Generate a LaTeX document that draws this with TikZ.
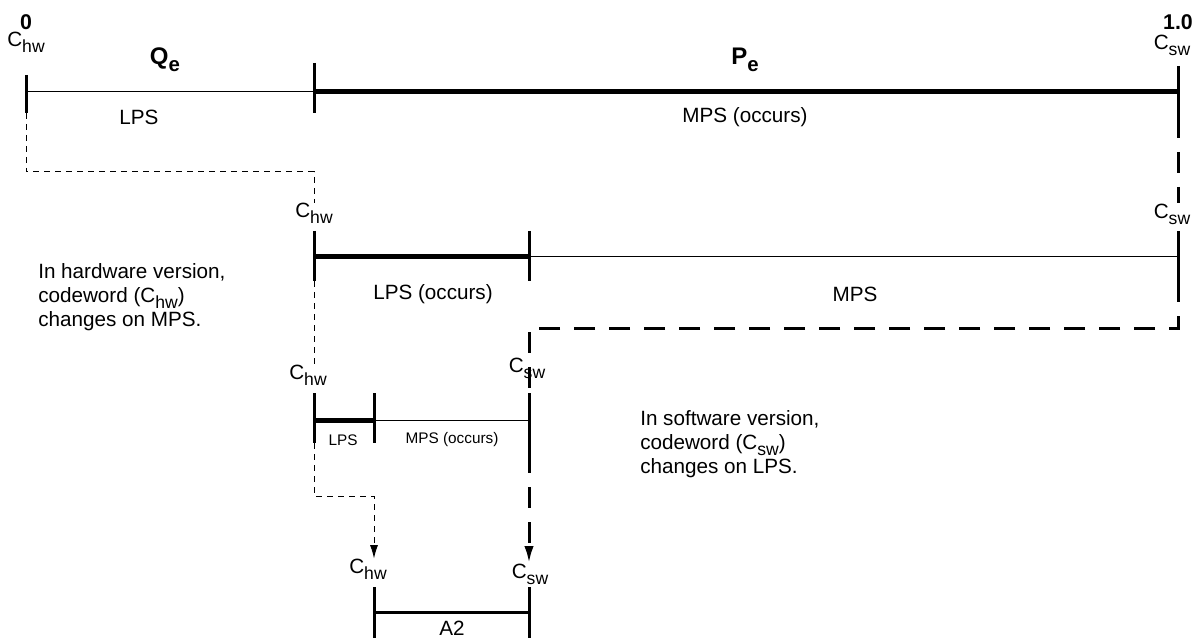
\documentclass[tikz,border=0pt]{standalone}
\usepackage{fontspec}
\setmainfont{Liberation Sans}
\usetikzlibrary{arrows.meta}

\newcommand{\lowsub}[1]{\raisebox{-0.55ex}{\scalebox{0.85}{#1}}}
\newcommand{\chw}{C\lowsub{hw}}
\newcommand{\csw}{C\lowsub{sw}}

\begin{document}
\begin{tikzpicture}[
    x=0.75pt, y=-0.75pt,
    lbl/.style={inner sep=0pt, font=\fontsize{15.5}{18}\selectfont},
    lblsmall/.style={inner sep=0pt, font=\fontsize{11.5}{14}\selectfont},
    lblbig/.style={inner sep=0pt, font=\fontsize{16}{19}\selectfont\bfseries},
    lblhead/.style={inner sep=0pt, font=\fontsize{18}{21}\selectfont\bfseries},
    thinbar/.style={line width=0.75pt},
    thickbar/.style={line width=3.75pt},
    tick/.style={line width=2.25pt},
    hwpath/.style={line width=0.75pt, dash pattern=on 4.5pt off 3.75pt},
    swpath/.style={line width=2.25pt, dash pattern=on 15.75pt off 10.5pt}
  ]
  \useasboundingbox (0,0) rectangle (1200,638);

  % first interval
  \coordinate (l1a) at (26,92);
  \coordinate (l1b) at (314,92);
  \coordinate (l1c) at (1178,92);
  \draw[thinbar] (l1a) -- (l1b);
  \draw[thickbar] (l1b) -- (l1c);
  \draw[tick] (26,75) -- (26,113) coordinate (t1a);
  \draw[tick] (314,63) -- (314,113);
  \draw[tick] (1178,66) -- (1178,117) coordinate (t1c);
  \node[lblbig] (zero) at (26,22) {0};
  \node[lbl] (c1hw) at (26,42) {\chw};
  \node[lblbig] (one) at (1178,22) {1.0};
  \node[lbl] (c1sw) at (1172,45) {\csw};
  \node[lblhead] (qe) at (165,60) {Q\lowsub{e}};
  \node[lblhead] (pe) at (745,60) {P\lowsub{e}};
  \node[lbl] (lps1) at (139,117) {LPS};
  \node[lbl] (mps1) at (745,117) {MPS (occurs)};

  % second interval
  \coordinate (l2a) at (314,257);
  \coordinate (l2b) at (529,257);
  \coordinate (l2c) at (1178,257);
  \draw[thickbar] (l2a) -- (l2b);
  \draw[thinbar] (l2b) -- (l2c);
  \draw[tick] (314,231) -- (314,281) coordinate (t2a);
  \draw[tick] (529,231) -- (529,281);
  \draw[tick] (1178,231) -- (1178,281) coordinate (t2c);
  \node[lbl] (c2hw) at (314,213) {\chw};
  \node[lbl] (c2sw) at (1172,214) {\csw};
  \node[lbl] (lps2) at (433,294) {LPS (occurs)};
  \node[lbl] (mps2) at (855,294) {MPS};

  % third interval
  \coordinate (l3a) at (314,420);
  \coordinate (l3b) at (374,420);
  \coordinate (l3c) at (529,420);
  \draw[thickbar] (l3a) -- (l3b);
  \draw[thinbar] (l3b) -- (l3c);
  \draw[tick] (314,393) -- (314,443) coordinate (t3a);
  \draw[tick] (374,393) -- (374,443);
  \draw[tick] (529,393) coordinate (t3top) -- (529,452) coordinate (t3c);
  \node[lbl] (c3hw) at (308,375) {\chw};
  \node[lbl] (c3sw) at (527,368) {\csw};
  \node[lblsmall] (lps3) at (343,440) {LPS};
  \node[lblsmall] (mps3) at (452,440) {MPS (occurs)};

  % result
  \coordinate (l4a) at (374,612);
  \coordinate (l4b) at (529,612);
  \draw[thinbar, line width=2.25pt] (l4a) -- (l4b);
  \draw[tick] (374,587) coordinate (t4a) -- (374,640);
  \draw[tick] (529,587) coordinate (t4b) -- (529,640);
  \node[lbl] (c4hw) at (368,569) {\chw};
  \node[lbl] (c4sw) at (530,574) {\csw};
  \node[lbl] (a2) at (452,628) {A2};

  % hardware path
  \coordinate (hw1) at (26,172);
  \coordinate (hw2) at (314,172);
  \coordinate (hw3) at (314,496);
  \coordinate (hw4) at (374,496);
  \draw[hwpath] (t1a) -- (hw1) -- (hw2) -- (hw2 |- c2hw.north);
  \draw[hwpath] (t2a) -- (t2a |- c3hw.north);
  \draw[hwpath, -{Latex[length=10pt,width=6pt]}] (t3a) -- (hw3) -- (hw4) -- (hw4 |- c4hw.north);

  % software path
  \coordinate (sw1) at (1178,328);
  \coordinate (sw2) at (529,328);
  \draw[swpath] (t1c) -- (t1c |- c2sw.north);
  \draw[swpath] (t2c) -- (sw1) -- (sw2) -- (t3top);
  \draw[swpath, -{Latex[length=13pt,width=7pt]}] (t3c) -- (t3c |- c4sw.north);

  \node[lbl, anchor=west, align=left] (hwnote) at (38,297)
    {In hardware version,\\codeword (\chw)\\changes on MPS.};
  \node[lbl, anchor=west, align=left] (swnote) at (640,444)
    {In software version,\\codeword (\csw)\\changes on LPS.};
\end{tikzpicture}
\end{document}
